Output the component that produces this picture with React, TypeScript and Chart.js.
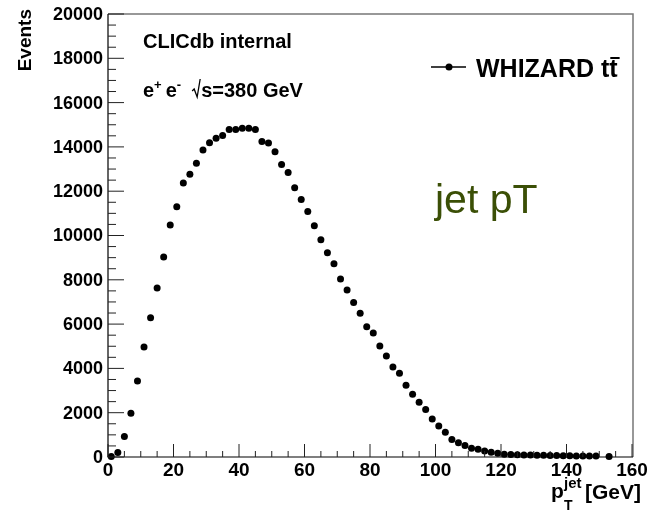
import React, { useEffect, useRef } from "react";
import { Chart, registerables } from "chart.js";

Chart.register(...registerables);

// Bin centres (GeV) of the jet pT histogram
const binCenters = [
  1, 3, 5, 7, 9, 11, 13, 15, 17, 19, 21, 23, 25, 27, 29, 31, 33, 35, 37, 39,
  41, 43, 45, 47, 49, 51, 53, 55, 57, 59, 61, 63, 65, 67, 69, 71, 73, 75, 77, 79,
  81, 83, 85, 87, 89, 91, 93, 95, 97, 99, 101, 103, 105, 107, 109, 111, 113, 115, 117, 119,
  121, 123, 125, 127, 129, 131, 133, 135, 137, 139, 141, 143, 145, 147, 149, 151, 153,
];

// Events per bin (WHIZARD ttbar)
const events: (number | null)[] = [
  20, 200, 920, 1970, 3430, 4970, 6290, 7630, 9030, 10470, 11300, 12370, 12760, 13260, 13860, 14190, 14390, 14510, 14780, 14780,
  14840, 14840, 14780, 14240, 14180, 13780, 13210, 12840, 12160, 11630, 11080, 10440, 9810, 9220, 8730, 8040, 7540, 6970, 6490, 5880,
  5600, 5010, 4560, 4060, 3780, 3240, 2830, 2470, 2140, 1720, 1400, 1120, 790, 640, 520, 390, 350, 270, 210, 165,
  125, 110, 100, 90, 85, 80, 75, 70, 65, 60, 55, 50, 45, 40, 40, null, 20,
];

const xTickLabels = ["0", "20", "40", "60", "80", "100", "120", "140", "160"];
const yTickLabels = ["0", "2000", "4000", "6000", "8000", "10000", "12000", "14000", "16000", "18000", "20000"];

const xMinorStep = 5;
const yMinorStep = 500;

const FONT = "'Liberation Sans', Arial, Helvetica, sans-serif";

const overlayPlugin = {
  id: "rootStyle",
  afterDraw(chart: any) {
    const ctx: CanvasRenderingContext2D = chart.ctx;
    const xs = chart.scales.x;
    const ys = chart.scales.y;
    const a = chart.chartArea;
    ctx.save();

    // frame (top and right)
    ctx.strokeStyle = "#777";
    ctx.lineWidth = 1.5;
    ctx.beginPath();
    ctx.moveTo(a.left, a.top);
    ctx.lineTo(a.right + 1, a.top);
    ctx.lineTo(a.right + 1, a.bottom);
    ctx.stroke();

    // axes
    ctx.strokeStyle = "#000";
    ctx.lineWidth = 1.2;
    ctx.beginPath();
    ctx.moveTo(a.left, a.top);
    ctx.lineTo(a.left, a.bottom);
    ctx.lineTo(a.right + 1, a.bottom);
    ctx.stroke();

    // y ticks
    ctx.lineWidth = 1;
    ctx.strokeStyle = "#222";
    for (let v = ys.min; v <= ys.max + 0.01; v += yMinorStep) {
      const py = ys.getPixelForValue(v);
      const major = Math.abs(v % 2000) < 1e-6;
      ctx.beginPath();
      ctx.moveTo(a.left, py);
      ctx.lineTo(a.left + (major ? 16 : 8), py);
      ctx.stroke();
    }
    // x ticks
    for (let v = xs.min; v <= xs.max + 0.01; v += xMinorStep) {
      const px = xs.getPixelForValue(v);
      const major = Math.abs(v % 20) < 1e-6;
      ctx.beginPath();
      ctx.moveTo(px, a.bottom);
      ctx.lineTo(px, a.bottom - (major ? 13 : 6));
      ctx.stroke();
    }

    // y tick labels
    ctx.fillStyle = "#000";
    ctx.font = `bold 18px ${FONT}`;
    ctx.textAlign = "right";
    ctx.textBaseline = "middle";
    yTickLabels.forEach((t) => {
      ctx.fillText(t, a.left - 5, ys.getPixelForValue(Number(t)) + 1);
    });
    // x tick labels
    ctx.font = `bold 19px ${FONT}`;
    ctx.textAlign = "center";
    xTickLabels.forEach((t) => {
      ctx.fillText(t, xs.getPixelForValue(Number(t)), a.bottom + 14);
    });

    // y title
    ctx.save();
    ctx.translate(31, 9);
    ctx.rotate(-Math.PI / 2);
    ctx.font = `bold 19px ${FONT}`;
    ctx.textAlign = "right";
    ctx.textBaseline = "alphabetic";
    ctx.fillText("Events", 0, 0);
    ctx.restore();

    // x title: p_T^jet [GeV]
    ctx.textAlign = "left";
    ctx.textBaseline = "alphabetic";
    ctx.font = `bold 21px ${FONT}`;
    ctx.fillText("p", 551, 498);
    ctx.font = `bold 15px ${FONT}`;
    ctx.fillText("jet", 564, 488);
    ctx.font = `bold 14px ${FONT}`;
    ctx.fillText("T", 564, 510);
    ctx.font = `bold 21px ${FONT}`;
    ctx.fillText("[GeV]", 585, 499);

    // annotations
    ctx.font = `bold 20px ${FONT}`;
    ctx.fillText("CLICdb internal", 143, 48);

    let x = 143;
    const base = 97;
    ctx.font = `bold 20px ${FONT}`;
    ctx.fillText("e", x, base);
    x += ctx.measureText("e").width;
    ctx.font = `bold 13px ${FONT}`;
    ctx.fillText("+", x, base - 8);
    x += ctx.measureText("+").width + 4;
    ctx.font = `bold 20px ${FONT}`;
    ctx.fillText("e", x, base);
    x += ctx.measureText("e").width;
    ctx.font = `bold 13px ${FONT}`;
    ctx.fillText("-", x, base - 8);
    x += ctx.measureText("-").width + 11;
    // sqrt sign
    ctx.strokeStyle = "#000";
    ctx.lineWidth = 1.3;
    ctx.beginPath();
    ctx.moveTo(x, base - 6);
    ctx.lineTo(x + 2, base - 8);
    ctx.lineTo(x + 5, base);
    ctx.lineTo(x + 8, base - 18);
    ctx.stroke();
    x += 9;
    ctx.font = `bold 20px ${FONT}`;
    ctx.fillText("s=380 GeV", x, base);

    // legend
    ctx.strokeStyle = "#000";
    ctx.lineWidth = 1.5;
    ctx.beginPath();
    ctx.moveTo(431, 67);
    ctx.lineTo(466, 67);
    ctx.stroke();
    ctx.beginPath();
    ctx.arc(449, 67, 3.5, 0, Math.PI * 2);
    ctx.fill();
    ctx.font = `bold 25px ${FONT}`;
    const lbl = "WHIZARD tt";
    ctx.fillText(lbl, 476, 77);
    const w = ctx.measureText(lbl).width;
    const tw = ctx.measureText("t").width;
    ctx.lineWidth = 2;
    ctx.beginPath();
    ctx.moveTo(476 + w - tw + 1, 58);
    ctx.lineTo(476 + w + 2, 58);
    ctx.stroke();

    // big label
    ctx.fillStyle = "#3b4f06";
    ctx.font = `41px ${FONT}`;
    ctx.fillText("jet pT", 435, 213);

    ctx.restore();
  },
};

export default function App() {
  const ref = useRef<HTMLCanvasElement | null>(null);
  useEffect(() => {
    if (!ref.current) return;
    const data = binCenters.map((c, i) => ({ x: c, y: events[i] }));
    const chart = new Chart(ref.current, {
      type: "scatter",
      data: {
        datasets: [
          {
            label: "WHIZARD tt",
            data: data as any,
            showLine: false,
            pointRadius: 3.5,
            pointBackgroundColor: "#000",
            pointBorderWidth: 0,
            borderColor: "#000",
            clip: false as any,
          },
        ],
      },
      options: {
        responsive: false,
        animation: false,
        devicePixelRatio: 1,
        layout: { padding: { left: 108, right: 20, top: 14, bottom: 55 } },
        scales: {
          x: { type: "linear", min: 0, max: 160, display: false },
          y: { type: "linear", min: 0, max: 20000, display: false },
        },
        plugins: { legend: { display: false }, tooltip: { enabled: false } },
      },
      plugins: [overlayPlugin],
    });
    return () => chart.destroy();
  }, []);
  return (
    <div style={{ position: "fixed", left: 0, top: 0, width: 652, height: 512, background: "#fff" }}>
      <canvas ref={ref} width={652} height={512} style={{ width: 652, height: 512 }} />
    </div>
  );
}
